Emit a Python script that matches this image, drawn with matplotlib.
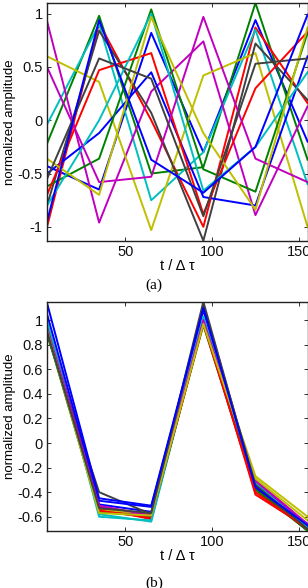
import matplotlib
matplotlib.use('Agg')
import matplotlib.pyplot as plt
from matplotlib.ticker import FuncFormatter

# sample times (t / delta tau)
t = [5, 35, 65, 95, 125, 155]

# MATLAB (pre-2014) default colour order
colors = [(0, 0, 1), (0, 0.5, 0), (1, 0, 0), (0, 0.75, 0.75),
          (0.75, 0, 0.75), (0.75, 0.75, 0), (0.25, 0.25, 0.25)]

# panel (a): raw normalized amplitudes
amp_a = [
    [-0.43, -0.65, 0.82, -0.30, 0.94, -0.20],
    [-0.22, 0.98, -0.50, -0.44, 1.10, -0.37],
    [-1.00, 0.91, 0.00, -1.00, 0.87, 0.16],
    [-0.04, 0.90, -0.75, -0.30, 0.85, -0.60],
    [0.93, -0.96, 0.27, 0.74, -0.89, 0.13],
    [0.60, 0.36, -1.03, 0.42, 0.63, -1.00],
    [-0.80, 0.84, 0.07, -1.13, 0.72, 0.19],
    [-0.50, -0.12, 0.45, -0.72, -0.80, 0.60],
    [-0.62, -0.36, 1.04, -0.46, -0.67, 0.82],
    [-0.70, 0.47, 0.63, -0.88, 0.30, 0.83],
    [-0.80, 0.00, 1.00, -0.66, -0.25, 0.45],
    [0.50, -0.58, -0.53, 0.97, -0.36, -0.58],
    [-0.36, -0.70, 0.97, -0.12, -0.84, 0.87],
    [-0.55, 0.58, 0.39, -0.90, 0.53, 0.58],
    [-0.95, 0.94, -0.37, -0.68, -0.25, 0.99],
]

# panel (b): aligned amplitudes
amp_b = [
    [0.98, -0.50, -0.56, 1.00, -0.33, -0.66],
    [0.93, -0.54, -0.58, 0.98, -0.37, -0.71],
    [0.95, -0.53, -0.62, 1.00, -0.42, -0.69],
    [1.00, -0.58, -0.64, 0.99, -0.34, -0.68],
    [0.96, -0.52, -0.60, 1.02, -0.31, -0.67],
    [0.90, -0.55, -0.57, 0.98, -0.27, -0.60],
    [0.88, -0.40, -0.58, 1.15, -0.36, -0.714],
    [1.05, -0.47, -0.52, 1.08, -0.35, -0.68],
    [0.90, -0.56, -0.60, 0.96, -0.38, -0.714],
    [0.97, -0.55, -0.61, 0.97, -0.40, -0.70],
    [0.99, -0.60, -0.63, 1.03, -0.33, -0.69],
    [0.94, -0.51, -0.59, 1.00, -0.30, -0.66],
    [0.92, -0.57, -0.59, 0.97, -0.29, -0.63],
    [0.91, -0.53, -0.57, 1.12, -0.34, -0.70],
    [1.14, -0.45, -0.51, 1.10, -0.36, -0.67],
]

xticks = [50, 100, 150]
yticks_a = [-1, -0.5, 0, 0.5, 1]
yticks_b = [-0.6, -0.4, -0.2, 0, 0.2, 0.4, 0.6, 0.8, 1]

plt.rcParams['font.family'] = ['Liberation Sans', 'DejaVu Sans']


def fmt(v, pos):
    # MATLAB style: short hyphen minus, no trailing zeros
    return '%g' % round(v, 2)


def draw(ax, data, yticks):
    for i, row in enumerate(data):
        ax.plot(t, row, color=colors[i % len(colors)], linewidth=1.4)
    ax.set_xlim(min(t), max(t))
    flat = [v for row in data for v in row]
    ax.set_ylim(min(flat), max(flat))
    ax.set_xticks(xticks)
    ax.set_yticks(yticks)
    ax.yaxis.set_major_formatter(FuncFormatter(fmt))
    ax.tick_params(direction='in', length=3, width=0.6, top=True, right=True,
                   labelsize=10.5, colors='#111111', pad=3)
    for s in ax.spines.values():
        s.set_linewidth(1.0)
        s.set_color('#222222')
    ax.set_xlabel('t / \u0394 \u03c4', fontsize=10.5, labelpad=0)
    ax.set_ylabel('normalized amplitude', fontsize=9.5)
    ax.yaxis.set_label_coords(-0.12, 0.5)


fig = plt.figure(figsize=(3.08, 5.88), dpi=100)
ax1 = fig.add_axes([0.1526, 0.5906, 0.846, 0.4043])
ax2 = fig.add_axes([0.1526, 0.0974, 0.846, 0.3895])

draw(ax1, amp_a, yticks_a)
draw(ax2, amp_b, yticks_b)

fig.text(0.5, 1 - 285 / 588, '(a)', ha='center', va='center',
         family='Liberation Serif', fontsize=11)
fig.text(0.5, 1 - 583 / 588, '(b)', ha='center', va='center',
         family='Liberation Serif', fontsize=11)

fig.savefig('out.png', dpi=100)
